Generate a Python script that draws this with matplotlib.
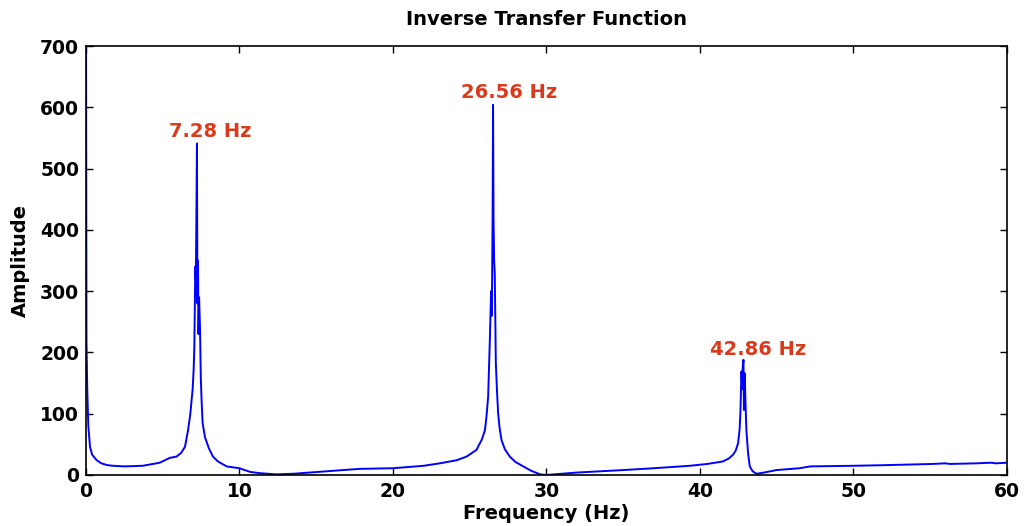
import matplotlib as mpl
mpl.use('Agg')
import matplotlib.pyplot as plt

# values
freq = [0, 0.03, 0.08, 0.15, 0.26, 0.4, 0.7, 1.0, 1.4, 1.77, 2.5,
        3.7, 4.8, 5.47, 5.9, 6.2, 6.45, 6.65, 6.8, 6.88, 6.95, 7.02,
        7.06, 7.1, 7.12, 7.16, 7.2, 7.23, 7.26, 7.3, 7.33, 7.37,
        7.43, 7.48, 7.54, 7.6, 7.75, 8.0, 8.27, 8.6, 9.17, 10.0,
        10.7, 11.3, 12.4, 13.5, 14.6, 16.2, 17.85, 20, 21, 22,
        23.06, 24.15, 24.8, 25.45, 25.8, 26.0, 26.1, 26.21, 26.32, 26.4,
        26.45, 26.5, 26.53, 26.56, 26.6, 26.64, 26.71, 26.78, 26.86, 26.95,
        27.08, 27.3, 27.62, 28.0, 28.5, 29.0, 29.6, 30.0,
        31, 32, 35, 37, 39.35, 40.5, 41.5, 41.9, 42.17, 42.35, 42.5,
        42.6, 42.65, 42.72, 42.77, 42.8, 42.85, 42.88, 42.93, 42.98, 43.04,
        43.15, 43.26, 43.45, 43.7, 44.2, 45, 46.5, 47.2, 50, 52,
        55.2, 56, 56.3, 58, 59, 59.3, 60]
amp = [800, 220, 140, 80, 46, 33, 24, 19, 16, 15, 14,
       15, 20, 28, 30, 36, 46, 73, 100, 122, 140, 175,
       209, 290, 340, 320, 440, 541, 280, 350, 230, 290,
       240, 160, 117, 85, 62, 44, 30, 22, 14, 11,
       5, 3, 1, 2, 4, 7, 10, 11, 13, 15,
       19, 24, 30, 41, 58, 73, 95, 128, 220, 300,
       260, 420, 604, 420, 350, 329, 183, 140, 101, 78,
       57, 42, 30, 21, 14, 7, 1, 0,
       2, 4, 8, 11, 15, 18, 22, 27, 33, 40, 52,
       75, 101, 169, 140, 175, 188, 106, 166, 120, 73,
       36, 14, 6, 2, 4, 8, 11, 14, 15, 16,
       18, 19, 18, 19, 20, 19, 20]

#peak labels and where they sit
peak_labels = ['7.28 Hz', '26.56 Hz', '42.86 Hz']
peak_x = [8.1, 27.55, 43.8]
peak_y = [545, 609, 189]

plt.rcParams['font.family'] = ['DejaVu Sans']
plt.rcParams['font.weight'] = 'bold'

fig = plt.figure(figsize=(10.24, 5.26), dpi=100)
ax = fig.add_axes([0.084, 0.097, 0.899, 0.8155])
ax.plot(freq, amp, color='#0000ff', lw=1.4)
ax.set_xlim(0, 60)
ax.set_ylim(0, 700)
ax.set_xticks(range(0, 61, 10))
ax.set_yticks(range(0, 701, 100))
ax.tick_params(direction='in', top=True, right=True, length=5, width=1,
               labelsize=13.5, pad=5)
for lab in ax.get_xticklabels() + ax.get_yticklabels():
    lab.set_fontweight('bold')
for s in ax.spines.values():
    s.set_linewidth(1.2)
for t, x, y in zip(peak_labels, peak_x, peak_y):
    ax.text(x, y, t, color='#d93a1c', fontsize=14, fontweight='bold',
            ha='center', va='bottom')
ax.set_xlabel('Frequency (Hz)', fontsize=14, fontweight='bold', labelpad=2)
ax.set_ylabel('Amplitude', fontsize=14, fontweight='bold', labelpad=7)
ax.set_title('Inverse Transfer Function', fontsize=14, fontweight='bold', pad=15)
plt.savefig('out.png', dpi=100)
